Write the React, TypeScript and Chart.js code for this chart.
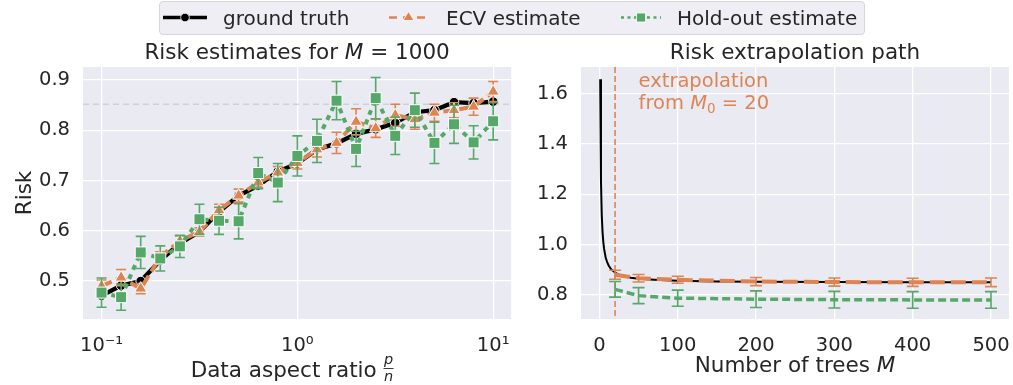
import React, { useEffect, useRef } from "react";
import { Chart, registerables } from "chart.js";

Chart.register(...registerables);

// ---------------- data ----------------
const ratioValues = [0.1, 0.1259, 0.1585, 0.1995, 0.2512, 0.3162, 0.3981, 0.5012, 0.631, 0.7943, 1, 1.259, 1.585, 1.995, 2.512, 3.162, 3.981, 5.012, 6.31, 7.943, 10];
const truthRisk = [0.471, 0.491, 0.5, 0.541, 0.575, 0.598, 0.638, 0.67, 0.69, 0.718, 0.734, 0.762, 0.774, 0.793, 0.802, 0.815, 0.836, 0.84, 0.856, 0.854, 0.857];
const ecvRisk = [0.49, 0.507, 0.485, 0.548, 0.58, 0.598, 0.641, 0.67, 0.696, 0.716, 0.735, 0.762, 0.775, 0.817, 0.804, 0.83, 0.822, 0.835, 0.84, 0.847, 0.877];
const ecvErr = [0.012, 0.016, 0.01, 0.01, 0.01, 0.008, 0.012, 0.013, 0.01, 0.012, 0.012, 0.015, 0.021, 0.026, 0.018, 0.022, 0.02, 0.017, 0.015, 0.017, 0.02];
const holdoutRisk = [0.477, 0.468, 0.557, 0.545, 0.569, 0.623, 0.62, 0.619, 0.715, 0.696, 0.749, 0.779, 0.859, 0.763, 0.864, 0.789, 0.84, 0.775, 0.812, 0.776, 0.818];
const holdoutErr = [0.029, 0.026, 0.032, 0.025, 0.022, 0.03, 0.027, 0.035, 0.031, 0.038, 0.04, 0.043, 0.038, 0.035, 0.041, 0.037, 0.034, 0.041, 0.038, 0.033, 0.037];
const oracleRiskLevel = 0.852;
const ratioTickValues = [0.1, 1, 10];
const ratioTickLabels = ["10\u207B\u00B9", "10\u2070", "10\u00B9"];
const riskTickValues = [0.5, 0.6, 0.7, 0.8, 0.9];

const treeCounts = [1, 2, 3, 4, 5, 6, 8, 10, 12, 15, 20, 25, 30, 40, 50, 70, 100, 150, 200, 300, 400, 500];
const truthPath = [1.658, 1.253, 1.118, 1.051, 1.01, 0.983, 0.949, 0.929, 0.916, 0.902, 0.889, 0.88, 0.875, 0.868, 0.864, 0.86, 0.856, 0.853, 0.852, 0.851, 0.85, 0.85];
const extrapTrees = [20, 50, 100, 200, 300, 400, 500];
const ecvPath = [0.88, 0.866, 0.86, 0.853, 0.851, 0.85, 0.85];
const ecvPathErr = [0.018, 0.015, 0.014, 0.016, 0.016, 0.016, 0.017];
const holdoutPath = [0.822, 0.797, 0.787, 0.783, 0.781, 0.78, 0.78];
const holdoutPathErr = [0.031, 0.032, 0.032, 0.033, 0.033, 0.033, 0.033];
const extrapStart = 20;
const treeTickValues = [0, 100, 200, 300, 400, 500];
const pathTickValues = [0.8, 1.0, 1.2, 1.4, 1.6];

// ---------------- style ----------------
const FONT = "'DejaVu Sans', sans-serif";
const TEXT = "#262626";
const BG = "#EAEAF2";
const ORANGE = "#DD8452";
const GREEN = "#55A868";
const FS = 19.5; // ticks, annotation
const LS = 21.5; // titles, axis labels
const LEG = 20; // legend

type Seg = { t: string; italic?: boolean; size?: number; dy?: number };

function fontStr(size: number, italic?: boolean) {
  return `${italic ? "italic " : ""}${size}px ${FONT}`;
}

function drawRich(ctx: CanvasRenderingContext2D, segs: Seg[], x: number, y: number, align: "left" | "center", color: string, size: number) {
  ctx.save();
  ctx.textBaseline = "alphabetic";
  ctx.textAlign = "left";
  ctx.fillStyle = color;
  const widths = segs.map((s) => {
    ctx.font = fontStr(s.size ?? size, s.italic);
    return ctx.measureText(s.t).width;
  });
  const total = widths.reduce((a, b) => a + b, 0);
  let cx = align === "center" ? x - total / 2 : x;
  segs.forEach((s, i) => {
    ctx.font = fontStr(s.size ?? size, s.italic);
    ctx.fillText(s.t, cx, y + (s.dy ?? 0));
    cx += widths[i];
  });
  ctx.restore();
}

function drawErrorBars(chart: any, dsIndex: number, errs: number[], color: string, capHalf: number, lw: number) {
  const meta = chart.getDatasetMeta(dsIndex);
  const ys = chart.scales.y;
  const vals = chart.data.datasets[dsIndex].data;
  const ctx: CanvasRenderingContext2D = chart.ctx;
  ctx.save();
  ctx.strokeStyle = color;
  ctx.lineWidth = lw;
  ctx.setLineDash([]);
  ctx.lineCap = "butt";
  meta.data.forEach((pt: any, i: number) => {
    const v = vals[i].y;
    const top = ys.getPixelForValue(v + errs[i]);
    const bot = ys.getPixelForValue(v - errs[i]);
    const x = pt.x;
    ctx.beginPath();
    ctx.moveTo(x, top);
    ctx.lineTo(x, bot);
    ctx.moveTo(x - capHalf, top);
    ctx.lineTo(x + capHalf, top);
    ctx.moveTo(x - capHalf, bot);
    ctx.lineTo(x + capHalf, bot);
    ctx.stroke();
  });
  ctx.restore();
}

const bgPlugin = {
  id: "plotBg",
  beforeDraw(chart: any) {
    const { ctx, chartArea: a } = chart;
    ctx.save();
    ctx.fillStyle = BG;
    ctx.fillRect(a.left, a.top, a.right - a.left, a.bottom - a.top);
    ctx.restore();
  },
};

const gridOpts = { color: "#FFFFFF", lineWidth: 1.3, drawTicks: false };
const tickFont = { family: FONT, size: FS };

function fixX(s: any) {
  s.height = 66;
  s.paddingLeft = 0;
  s.paddingRight = 0;
  s.paddingTop = 0;
  s.paddingBottom = 0;
}
function fixY(width: number) {
  return (s: any) => {
    s.width = width;
    s.paddingLeft = 0;
    s.paddingRight = 0;
    s.paddingTop = 0;
    s.paddingBottom = 0;
  };
}

function LeftChart() {
  const ref = useRef<HTMLCanvasElement>(null);
  useEffect(() => {
    const canvas = ref.current!;
    const deco = {
      id: "leftDeco",
      beforeDatasetsDraw(chart: any) {
        const { ctx, chartArea: a } = chart;
        const y = chart.scales.y.getPixelForValue(oracleRiskLevel);
        ctx.save();
        ctx.strokeStyle = "#CFCFD4";
        ctx.lineWidth = 1.5;
        ctx.setLineDash([6, 4]);
        ctx.beginPath();
        ctx.moveTo(a.left, y);
        ctx.lineTo(a.right, y);
        ctx.stroke();
        ctx.restore();
      },
      beforeDatasetDraw(chart: any, args: any) {
        if (args.index === 1) drawErrorBars(chart, 1, ecvErr, ORANGE, 5, 1.6);
        if (args.index === 2) drawErrorBars(chart, 2, holdoutErr, GREEN, 5, 1.6);
      },
      afterDraw(chart: any) {
        const { ctx, chartArea: a } = chart;
        const cx = (a.left + a.right) / 2;
        drawRich(ctx, [{ t: "Risk estimates for " }, { t: "M", italic: true }, { t: " = 1000" }], cx, 59, "center", TEXT, LS);
        // y title
        ctx.save();
        ctx.translate(30.5, (a.top + a.bottom) / 2);
        ctx.rotate(-Math.PI / 2);
        ctx.font = fontStr(LS);
        ctx.fillStyle = TEXT;
        ctx.textAlign = "center";
        ctx.textBaseline = "alphabetic";
        ctx.fillText("Risk", 0, 0);
        ctx.restore();
        // x title with fraction p/n
        ctx.save();
        ctx.font = fontStr(LS);
        const main = "Data aspect ratio ";
        const w = ctx.measureText(main).width;
        const fracW = 10;
        const total = w + fracW;
        const sx = cx - 5 - total / 2;
        ctx.fillStyle = TEXT;
        ctx.textBaseline = "alphabetic";
        ctx.textAlign = "left";
        ctx.fillText(main, sx, 377);
        const fx = sx + w + fracW / 2;
        ctx.font = fontStr(14.5, true);
        ctx.textAlign = "center";
        ctx.fillText("p", fx, 364);
        ctx.fillText("n", fx, 381);
        ctx.strokeStyle = TEXT;
        ctx.lineWidth = 0.9;
        ctx.beginPath();
        ctx.moveTo(fx - 5, 368.5);
        ctx.lineTo(fx + 5, 368.5);
        ctx.stroke();
        ctx.restore();
      },
    };
    const chart = new Chart(canvas, {
      type: "line",
      data: {
        datasets: [
          {
            label: "ground truth",
            data: ratioValues.map((x, i) => ({ x, y: truthRisk[i] })),
            borderColor: "#000000",
            backgroundColor: "#000000",
            borderWidth: 4.3,
            pointStyle: "circle",
            pointRadius: 4.8,
            pointBackgroundColor: "#000000",
            pointBorderColor: "#FFFFFF",
            pointBorderWidth: 1,
            order: 3,
          },
          {
            label: "ECV estimate",
            data: ratioValues.map((x, i) => ({ x, y: ecvRisk[i] })),
            borderColor: ORANGE,
            backgroundColor: ORANGE,
            borderWidth: 4,
            borderDash: [11, 5],
            pointStyle: "triangle",
            pointRadius: 7,
            pointBackgroundColor: ORANGE,
            pointBorderColor: "#FFFFFF",
            pointBorderWidth: 1,
            order: 2,
          },
          {
            label: "Hold-out estimate",
            data: ratioValues.map((x, i) => ({ x, y: holdoutRisk[i] })),
            borderColor: GREEN,
            backgroundColor: GREEN,
            borderWidth: 4,
            borderDash: [5, 5],
            pointStyle: "rect",
            pointRadius: 7.8,
            pointBackgroundColor: GREEN,
            pointBorderColor: "#FFFFFF",
            pointBorderWidth: 1,
            order: 1,
          },
        ],
      },
      options: {
        animation: false,
        responsive: false,
        maintainAspectRatio: false,
        events: [],
        layout: { padding: { top: 67, left: 0, right: 8, bottom: 0 } },
        plugins: { legend: { display: false }, tooltip: { enabled: false }, title: { display: false } },
        scales: {
          x: {
            type: "logarithmic",
            min: 0.0804,
            max: 12.36,
            grid: gridOpts,
            border: { display: false },
            ticks: {
              font: tickFont,
              color: TEXT,
              padding: 15,
              autoSkip: false,
              maxRotation: 0,
              callback: (_v: any, i: number) => ratioTickLabels[i],
            },
            afterBuildTicks: (s: any) => {
              s.ticks = ratioTickValues.map((v) => ({ value: v }));
            },
            afterFit: fixX,
          },
          y: {
            type: "linear",
            min: 0.4245,
            max: 0.926,
            grid: gridOpts,
            border: { display: false },
            ticks: {
              font: tickFont,
              color: TEXT,
              padding: 13,
              callback: (v: any) => Number(v).toFixed(1),
            },
            afterBuildTicks: (s: any) => {
              s.ticks = riskTickValues.map((v) => ({ value: v }));
            },
            afterFit: fixY(83),
          },
        },
      } as any,
      plugins: [bgPlugin, deco],
    });
    return () => chart.destroy();
  }, []);
  return <canvas ref={ref} width={520} height={385} style={{ position: "absolute", left: 0, top: 0, width: 520, height: 385 }} />;
}

function RightChart() {
  const ref = useRef<HTMLCanvasElement>(null);
  useEffect(() => {
    const canvas = ref.current!;
    const deco = {
      id: "rightDeco",
      beforeDatasetsDraw(chart: any) {
        const { ctx, chartArea: a } = chart;
        const x = chart.scales.x.getPixelForValue(extrapStart);
        ctx.save();
        ctx.strokeStyle = ORANGE;
        ctx.lineWidth = 1.6;
        ctx.setLineDash([6, 3]);
        ctx.beginPath();
        ctx.moveTo(x, a.top);
        ctx.lineTo(x, a.bottom);
        ctx.stroke();
        ctx.restore();
      },
      afterDatasetDraw(chart: any, args: any) {
        if (args.index === 1) drawErrorBars(chart, 1, ecvPathErr, ORANGE, 6, 1.6);
        if (args.index === 2) drawErrorBars(chart, 2, holdoutPathErr, GREEN, 6, 1.6);
      },
      afterDraw(chart: any) {
        const { ctx, chartArea: a } = chart;
        const cx = (a.left + a.right) / 2;
        drawRich(ctx, [{ t: "Risk extrapolation path" }], cx, 59, "center", TEXT, LS);
        drawRich(ctx, [{ t: "Number of trees " }, { t: "M", italic: true }], cx, 372, "center", TEXT, LS);
        const tx = chart.scales.x.getPixelForValue(50);
        const ty = chart.scales.y.getPixelForValue(1.54);
        drawRich(ctx, [{ t: "extrapolation" }], tx, ty - 22, "left", ORANGE, FS);
        drawRich(
          ctx,
          [{ t: "from " }, { t: "M", italic: true }, { t: "0", size: 13.5, dy: 4 }, { t: " = 20" }],
          tx,
          ty,
          "left",
          ORANGE,
          FS
        );
      },
    };
    const chart = new Chart(canvas, {
      type: "line",
      data: {
        datasets: [
          {
            label: "ground truth",
            data: treeCounts.map((x, i) => ({ x, y: truthPath[i] })),
            borderColor: "#000000",
            borderWidth: 2,
            pointRadius: 0,
            order: 3,
          },
          {
            label: "ECV estimate",
            data: extrapTrees.map((x, i) => ({ x, y: ecvPath[i] })),
            borderColor: ORANGE,
            borderWidth: 4,
            borderDash: [15, 6],
            pointRadius: 0,
            order: 2,
          },
          {
            label: "Hold-out estimate",
            data: extrapTrees.map((x, i) => ({ x, y: holdoutPath[i] })),
            borderColor: GREEN,
            borderWidth: 3.5,
            borderDash: [8, 4],
            pointRadius: 0,
            order: 1,
          },
        ],
      },
      options: {
        animation: false,
        responsive: false,
        maintainAspectRatio: false,
        events: [],
        layout: { padding: { top: 67, left: 0, right: 4, bottom: 0 } },
        plugins: { legend: { display: false }, tooltip: { enabled: false }, title: { display: false } },
        scales: {
          x: {
            type: "linear",
            min: -23.5,
            max: 523,
            grid: gridOpts,
            border: { display: false },
            ticks: {
              font: tickFont,
              color: TEXT,
              padding: 15,
              autoSkip: false,
              maxRotation: 0,
              callback: (v: any) => String(v),
            },
            afterBuildTicks: (s: any) => {
              s.ticks = treeTickValues.map((v) => ({ value: v }));
            },
            afterFit: fixX,
          },
          y: {
            type: "linear",
            min: 0.704,
            max: 1.707,
            grid: gridOpts,
            border: { display: false },
            ticks: {
              font: tickFont,
              color: TEXT,
              padding: 13,
              callback: (v: any) => Number(v).toFixed(1),
            },
            afterBuildTicks: (s: any) => {
              s.ticks = pathTickValues.map((v) => ({ value: v }));
            },
            afterFit: fixY(61),
          },
        },
      } as any,
      plugins: [bgPlugin, deco],
    });
    return () => chart.destroy();
  }, []);
  return <canvas ref={ref} width={493} height={385} style={{ position: "absolute", left: 520, top: 0, width: 493, height: 385 }} />;
}

function Legend() {
  const textStyle = (left: number): React.CSSProperties => ({
    position: "absolute",
    left,
    top: 1,
    height: 34,
    lineHeight: "34px",
    fontFamily: FONT,
    fontSize: LEG,
    color: TEXT,
    whiteSpace: "nowrap",
  });
  return (
    <>
      <div
        style={{
          position: "absolute",
          left: 159,
          top: 1,
          width: 706,
          height: 34,
          boxSizing: "border-box",
          border: "1px solid #D6D6DE",
          borderRadius: 4,
          background: "#EEEEF4",
        }}
      />
      <svg width={1013} height={40} style={{ position: "absolute", left: 0, top: 0 }}>
        <line x1={163} y1={17.5} x2={207} y2={17.5} stroke="#000" strokeWidth={3.5} />
        <circle cx={185} cy={17.5} r={4.3} fill="#000" stroke="#fff" strokeWidth={0.8} />
        <line x1={389} y1={17.5} x2={426} y2={17.5} stroke={ORANGE} strokeWidth={2.5} strokeDasharray="8 6" />
        <polygon points="408.5,11.5 414,20.5 403,20.5" fill={ORANGE} stroke="#fff" strokeWidth={0.8} />
        <line x1={621} y1={17.5} x2={661} y2={17.5} stroke={GREEN} strokeWidth={2.5} strokeDasharray="3 3.5" />
        <rect x={636.5} y={13} width={9} height={9} fill={GREEN} stroke="#fff" strokeWidth={0.8} />
      </svg>
      <div style={textStyle(223)}>ground truth</div>
      <div style={textStyle(446)}>ECV estimate</div>
      <div style={textStyle(677)}>Hold-out estimate</div>
    </>
  );
}

export default function App() {
  return (
    <div style={{ position: "absolute", left: 0, top: 0, width: 1013, height: 385, background: "#FFFFFF", overflow: "hidden" }}>
      <LeftChart />
      <RightChart />
      <Legend />
    </div>
  );
}
